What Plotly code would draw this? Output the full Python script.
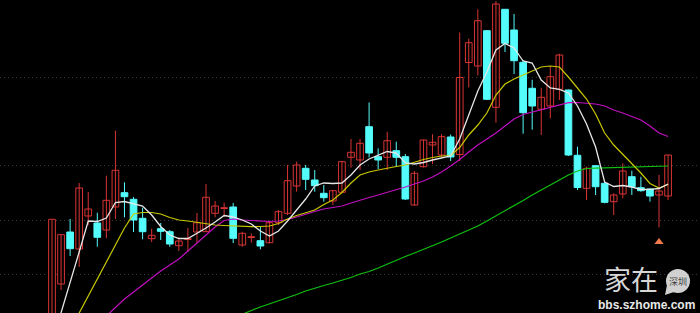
import plotly.graph_objects as go

# ---- data (price units) ----
open_ = [-17, 29, 81, 64, 97, 90, 83, 106, 120.3, 113.7, 94.7, 74.3, 84.3, 81.3, 67.3, 73.5, 81, 81.3, 99.7, 104.5,
         106, 68, 75.5, 72.3, 70.3, 90.3, 99.7, 127, 144.7, 133, 119.7, 112, 120.7, 155.7, 153, 186.3, 156.3, 155.7, 162.3, 156.3,
         108, 146.3, 168, 158, 176, 158.5, 250.5, 247, 282.3, 205.7, 303.7, 283, 250.7, 224.7, 203.7, 207, 223.7, 223, 157.7, 124.7,
         147.3, 129.7, 111.3, 119, 136.3, 125.3, 124, 118, 117]
high = [93.7, 78.3, 94, 130, 121, 100.3, 137.3, 182.5, 130.7, 116, 105.3, 84.3, 90, 83, 75.7, 85, 100, 129, 112, 110.3,
        110, 81.3, 79.7, 87, 92.3, 103, 148, 151.3, 148, 143, 128, 123, 152, 174, 174, 210.5, 164.7, 181.3, 171.3, 159,
        142, 173.5, 178.7, 179, 178.5, 280.5, 274.3, 303.7, 283, 312, 304, 299, 253, 233.3, 225.2, 247, 259.3, 223.5, 166.3, 146.3,
        147.5, 130.3, 119.7, 149.7, 142.3, 136.3, 124.7, 138, 158]
low = [-20, 23, 57, 46, 88, 66.3, 74.7, 94, 95.7, 81, 73.7, 71, 73, 66.3, 62, 61, 70, 81, 95.7, 96.3,
       70, 66.3, 70.3, 63.7, 69.7, 88, 98, 121.3, 123, 121.3, 111.3, 108, 120, 145.3, 143, 155.5, 144, 143, 146.3, 113,
       107.5, 145.5, 149, 155, 152, 152, 225.7, 237.5, 213, 190.3, 261, 239, 179.3, 183.3, 178, 194.7, 213, 157, 123, 113,
       118, 109.7, 98, 114.7, 118, 121.3, 111.3, 85.7, 113]
close = [93.7, 78.3, 64.3, 125, 104, 75.7, 112.7, 142.7, 116.3, 93, 81.3, 77.7, 81.7, 69, 72, 74, 90.3, 115.7, 107, 105,
         74.7, 79.7, 76, 67, 90.3, 101.3, 132.3, 148, 133.7, 127.3, 115.3, 122.3, 151.3, 160.7, 169.7, 160, 153, 172.3, 155.7, 114,
         139.7, 173, 170.7, 176.3, 156, 235.5, 270.3, 292.3, 213.7, 309, 269.7, 252.3, 200.3, 207, 215.7, 236.3, 258, 158, 125.5, 144.7,
         126.3, 110.7, 118, 142, 126.3, 122.3, 117, 122, 158]

ma5 = [-30, 0, 29, 61, 92, 91.5, 95, 110.5, 111.5, 109, 107, 98, 86.5, 78, 74.5, 74.5, 79.5, 85, 91, 97.5,
       96, 93, 89, 82, 77, 82, 92, 103, 114, 127, 130, 129.5, 130, 138, 148, 154, 158, 161.5, 160, 150,
       149, 150.5, 153, 155, 157, 174, 198, 222, 241, 263, 269.5, 265, 252, 250, 233, 225, 223.7, 220, 207, 189,
       166, 131, 126.5, 127.5, 126, 123.5, 123.7, 124.5, 129]
ma10 = [-70, -45, -20, 0, 17, 35, 51, 68, 85, 99, 100.5, 100.5, 99, 95.5, 93, 92, 90.5, 89, 88, 87.5,
        87, 86.5, 86.3, 86.5, 87, 89.5, 94, 97.5, 100.5, 103, 108.5, 113, 120.5, 130, 138, 141, 143, 145, 146.5, 148,
        151, 153.5, 155.5, 157, 157.5, 165.5, 178, 188, 200, 218, 229, 234, 238, 242, 246, 247, 246, 236, 225, 214,
        199, 180, 168, 159, 150, 140, 129.5, 125, 128.5]
ma20 = [-60, -50, -40, -30, -20, -11, -3, 6, 14, 21, 28, 35, 42, 48, 54, 62, 70, 78.5, 86, 92.5,
        94, 93, 92.5, 92, 91.5, 92, 93.5, 96, 99, 101.5, 104, 105.5, 107, 110, 113, 115.5, 118, 120.5, 123, 126,
        129, 132, 136, 141, 147, 153.5, 161, 168, 174, 180, 187, 194, 198.5, 201, 203, 205.5, 208.5, 210.3, 210.5, 210,
        209, 207, 203, 200, 196.5, 193, 187, 180, 176.5]
ma60 = [None] * 18 + [-13, -9,
        -5, -1.5, 2.5, 6, 9, 12.5, 15.5, 18.5, 22, 25, 27.5, 30, 32.5, 35.5, 39, 41.5, 45, 49, 53, 56.5,
        60, 63.5, 67.5, 71, 75, 79, 82.5, 87, 92, 97, 102, 107, 112.5, 118, 123, 128, 133.5, 138, 142, 144.5,
        144.8, 145, 145.5, 145.8, 146, 146.3, 146.5, 146.8, 147]

signal_idx = [67]
signal_val = [71]
grid_levels = [38.7, 93, 147.3, 235.3]

RED = '#d83434'
CYAN = '#54fcfc'

n = len(close)
idx = list(range(n))
up = [i for i in idx if close[i] >= open_[i]]
down = [i for i in idx if close[i] < open_[i]]


def wicks(ids):
    xs, ys = [], []
    for i in ids:
        xs += [i, i, None]
        ys += [low[i], high[i], None]
    return xs, ys


fig = go.Figure()
wx, wy = wicks(up)
fig.add_trace(go.Scatter(x=wx, y=wy, mode='lines', line=dict(color=RED, width=1), hoverinfo='skip'))
wx, wy = wicks(down)
fig.add_trace(go.Scatter(x=wx, y=wy, mode='lines', line=dict(color=CYAN, width=1), hoverinfo='skip'))

fig.add_trace(go.Bar(x=up, base=[open_[i] for i in up],
                     y=[max(close[i] - open_[i], 0.8) for i in up], width=0.74,
                     marker=dict(color='#000000', line=dict(color=RED, width=1))))
fig.add_trace(go.Bar(x=down, base=[close[i] for i in down],
                     y=[max(open_[i] - close[i], 0.8) for i in down], width=0.74,
                     marker=dict(color=CYAN, line=dict(color=CYAN, width=1))))

for vals, col, w in [(ma60, '#10c010', 1.2), (ma20, '#c010c0', 1.2), (ma10, '#c8c800', 1.2), (ma5, '#e6e6e6', 1.3)]:
    fig.add_trace(go.Scatter(x=idx, y=vals, mode='lines', line=dict(color=col, width=w), connectgaps=False))

fig.add_trace(go.Scatter(x=signal_idx, y=signal_val, mode='markers',
                         marker=dict(symbol='triangle-up', size=8, color='#f27a4c')))

W, H = 700, 313


def px(x):
    return x / W


def py(y):
    return 1 - y / H


annotations = [
    dict(text='家在', x=px(631), y=py(278), xref='paper', yref='paper', showarrow=False,
         xanchor='center', yanchor='middle',
         font=dict(family='Noto Sans CJK SC', size=27, color='#d6d6d6')),
    dict(text='深圳', x=px(678), y=py(281), xref='paper', yref='paper', showarrow=False,
         xanchor='center', yanchor='middle',
         font=dict(family='Noto Sans CJK SC', size=9, color='#404040')),
    dict(text='<b>bbs.szhome.com</b>', x=px(646), y=py(305), xref='paper', yref='paper', showarrow=False,
         xanchor='center', yanchor='middle',
         font=dict(family='Liberation Sans', size=12, color='#e8e8e8')),
]

shapes = [
    dict(type='circle', xref='paper', yref='paper', x0=px(666), x1=px(690), y0=py(293), y1=py(269),
         fillcolor='#d0d0d0', line=dict(width=0), layer='above'),
    dict(type='path', xref='paper', yref='paper',
         path=f'M {px(667)},{py(285)} L {px(665)},{py(295)} L {px(674)},{py(292)} Z',
         fillcolor='#d0d0d0', line=dict(width=0), layer='above'),
]

fig.update_layout(
    width=W, height=H, margin=dict(l=0, r=0, t=0, b=0),
    paper_bgcolor='#000000', plot_bgcolor='#000000',
    showlegend=False, barmode='overlay',
    xaxis=dict(range=[-52 / 9.06, (700 - 52) / 9.06], showgrid=False, zeroline=False,
               showticklabels=False, ticks='', showline=False),
    yaxis=dict(range=[0, 313], tickvals=grid_levels, showgrid=True, gridcolor='#3a3a3a',
               griddash='1px,3px', gridwidth=1, zeroline=False, showticklabels=False, ticks='', showline=False),
    annotations=annotations, shapes=shapes,
)

fig.write_html('out.html')
